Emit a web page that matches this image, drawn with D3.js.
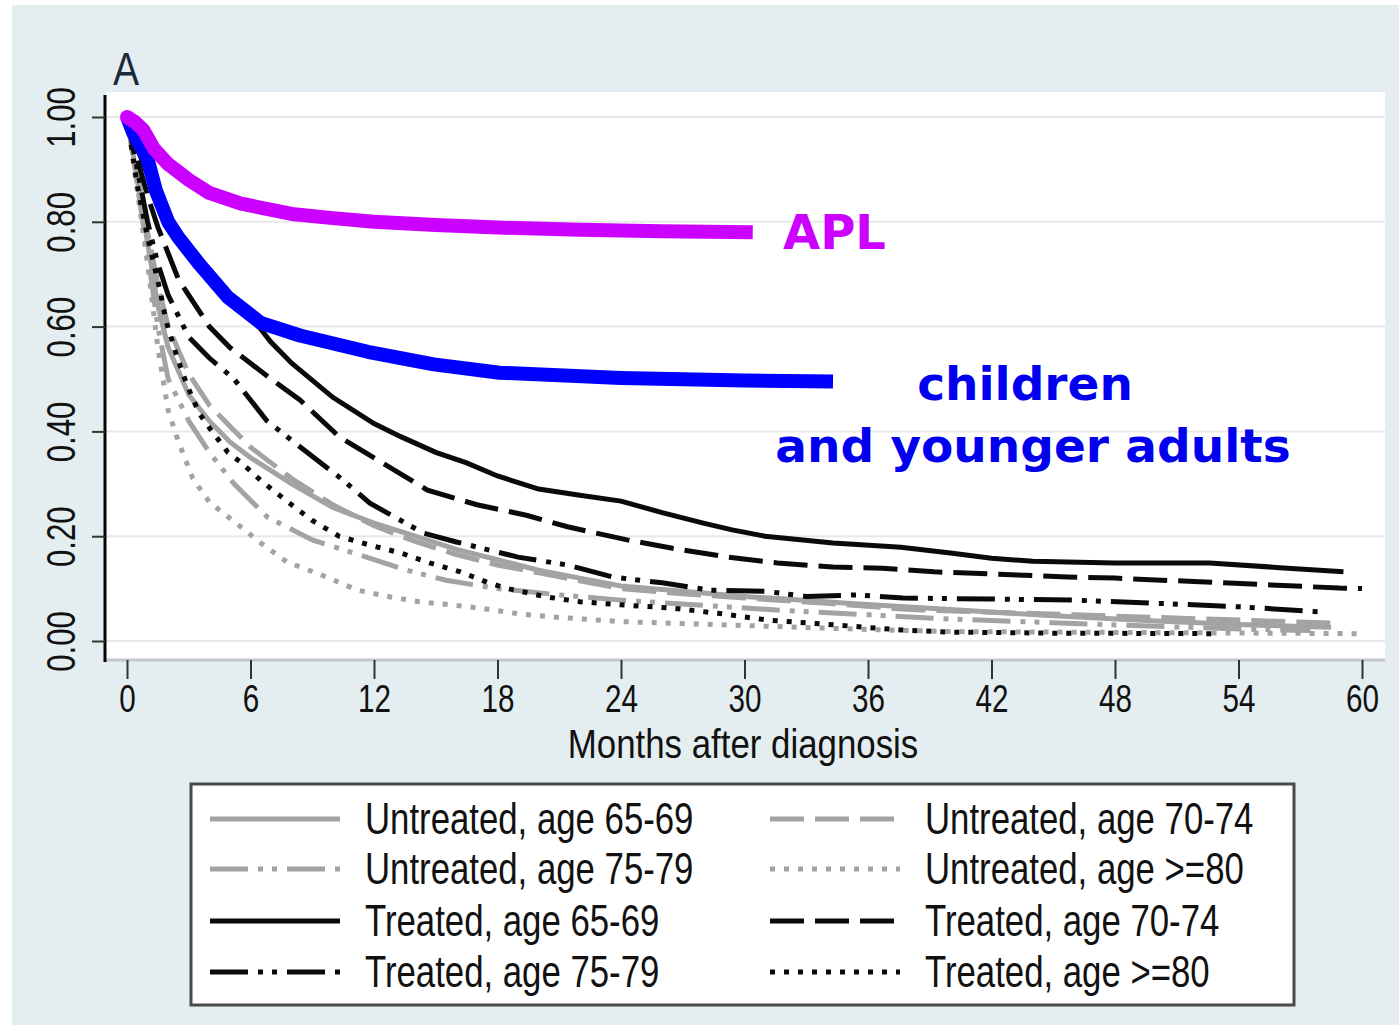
<!DOCTYPE html>
<html>
<head>
<meta charset="utf-8">
<script src="https://cdn.jsdelivr.net/npm/d3@7"></script>
<style>
  body { margin: 0; background: #fff; }
  svg text { font-family: "Liberation Sans", Arial, sans-serif; fill: #111; }
</style>
</head>
<body>
<svg id="chart"></svg>
<script>
// survival curves, [month, proportion surviving]
const apl = [[0,1],[0.4,0.99],[0.8,0.975],[1.3,0.94],[2,0.91],[3,0.88],[4,0.855],[5.5,0.835],[8,0.815],[10,0.807],[12,0.8],[15,0.794],[18,0.789],[22,0.785],[26,0.782],[30.4,0.78]];
const younger = [[0,1],[0.3,0.97],[1,0.92],[1.4,0.86],[2,0.8],[2.5,0.77],[3.5,0.72],[4.9,0.656],[6.5,0.607],[8.4,0.583],[11.7,0.552],[14.9,0.528],[18.1,0.512],[24,0.502],[30,0.497],[34.3,0.495]];

const untreated6569 = [[0,1],[0.5,0.88],[1,0.76],[1.5,0.64],[2,0.56],[3,0.47],[4,0.42],[5,0.38],[6,0.35],[8,0.3],[10,0.255],[12,0.225],[14,0.2],[16,0.175],[18,0.155],[20,0.135],[22,0.12],[24,0.105],[27,0.095],[30,0.085],[35,0.072],[40,0.06],[45,0.048],[50,0.038],[55,0.03],[58.5,0.026]];
const untreated7074 = [[0,1],[0.5,0.9],[1,0.78],[1.5,0.68],[2,0.6],[3,0.51],[4,0.45],[5,0.41],[6,0.37],[8,0.31],[10,0.26],[12,0.22],[14,0.19],[16,0.165],[18,0.145],[20,0.13],[22,0.115],[24,0.1],[27,0.09],[30,0.082],[34,0.072],[38,0.06],[42,0.055],[46,0.05],[50,0.045],[54,0.04],[58.7,0.034]];
const untreated7579 = [[0,1],[0.5,0.87],[1,0.74],[1.5,0.6],[2,0.5],[3,0.42],[4,0.36],[5.2,0.3],[6.8,0.237],[9,0.193],[11,0.168],[13.6,0.135],[15.5,0.116],[18,0.1],[21,0.088],[24,0.078],[28,0.068],[32,0.058],[36,0.05],[40,0.042],[45,0.035],[50,0.028],[55,0.022],[57.5,0.02]];
const untreated80 = [[0,1],[0.5,0.86],[1,0.72],[1.5,0.56],[2,0.44],[2.5,0.38],[3.2,0.31],[4,0.265],[5.3,0.225],[6.5,0.187],[7.8,0.15],[9.2,0.13],[11.2,0.097],[12.8,0.084],[14.2,0.075],[15.7,0.069],[17.3,0.062],[19,0.052],[21,0.045],[24,0.037],[28,0.032],[32,0.027],[36,0.022],[40,0.018],[45,0.017],[50,0.016],[55,0.015],[59.8,0.014]];

const treated6569 = [[0,1],[0.5,0.94],[1,0.89],[1.6,0.84],[2,0.8],[3,0.745],[4,0.7],[5,0.66],[6,0.62],[7,0.57],[8,0.53],[10,0.465],[12,0.415],[13.3,0.39],[15,0.36],[16.5,0.34],[18,0.315],[20,0.29],[22,0.278],[24,0.267],[26,0.245],[28,0.225],[29.4,0.212],[31,0.2],[34.3,0.187],[37.6,0.179],[40,0.168],[42,0.158],[44,0.152],[48,0.149],[52.6,0.149],[56,0.14],[59.1,0.132]];
const treated7074 = [[0,1],[0.5,0.92],[1,0.85],[1.5,0.79],[2.5,0.69],[4,0.6],[5,0.56],[6,0.53],[7,0.5],[8.4,0.46],[10.3,0.39],[12.4,0.34],[14.6,0.288],[17,0.26],[19.4,0.24],[21.4,0.218],[24.3,0.193],[26.5,0.177],[29.2,0.16],[31.6,0.149],[34.3,0.141],[36.7,0.139],[39.2,0.132],[42,0.128],[45.7,0.122],[48,0.12],[52.1,0.113],[55,0.108],[58.9,0.101],[60,0.1]];
const treated7579 = [[0,1],[0.5,0.9],[1,0.8],[1.5,0.72],[2,0.66],[3,0.58],[4,0.54],[5.2,0.5],[6.8,0.42],[8.1,0.38],[10.5,0.307],[11.8,0.263],[14.4,0.206],[16,0.189],[19,0.16],[21.4,0.145],[23.6,0.122],[26,0.111],[28.3,0.097],[31,0.095],[33,0.085],[35.5,0.088],[37.7,0.082],[42,0.08],[46,0.078],[50,0.072],[54.2,0.065],[58.2,0.055]];
const treated80 = [[0,1],[0.5,0.87],[1,0.77],[1.3,0.72],[1.6,0.67],[1.9,0.61],[2.4,0.546],[2.9,0.49],[3.5,0.435],[4,0.407],[4.9,0.36],[5.5,0.342],[6.6,0.303],[7.8,0.266],[9,0.23],[10.3,0.2],[11.8,0.183],[13.3,0.168],[14.7,0.149],[16.2,0.132],[17.5,0.112],[18.5,0.1],[20.4,0.084],[22,0.075],[24,0.069],[26.4,0.063],[28.7,0.053],[31.1,0.04],[34.3,0.031],[37.6,0.021],[40,0.017],[45,0.015],[52.9,0.014]];

const xTicks = [0, 6, 12, 18, 24, 30, 36, 42, 48, 54, 60];
const yTicks = [0, 0.2, 0.4, 0.6, 0.8, 1.0];

const GRAY = "#a3a3a3";
const BLACK = "#0a0a0a";
const DASH = "34,11";
const DASHDOT = "38,10,5,9,5,10";
const DOT = "5,9";

const series = [
  {name: "Untreated, age 65-69", data: untreated6569, color: GRAY, dash: null},
  {name: "Untreated, age 70-74", data: untreated7074, color: GRAY, dash: DASH},
  {name: "Untreated, age 75-79", data: untreated7579, color: GRAY, dash: DASHDOT},
  {name: "Untreated, age >=80", data: untreated80, color: GRAY, dash: DOT},
  {name: "Treated, age 65-69", data: treated6569, color: BLACK, dash: null},
  {name: "Treated, age 70-74", data: treated7074, color: BLACK, dash: DASH},
  {name: "Treated, age 75-79", data: treated7579, color: BLACK, dash: DASHDOT},
  {name: "Treated, age >=80", data: treated80, color: BLACK, dash: DOT}
];

const W = 1399, H = 1025;
const plot = {left: 106, right: 1385, top: 92, bottom: 660};
const squeeze = "scale(0.78,1)";

const svg = d3.select("#chart").attr("width", W).attr("height", H);

svg.append("rect").attr("x", 12).attr("y", 5).attr("width", W - 12).attr("height", H - 5)
  .attr("fill", "#e4eef0");
svg.append("rect").attr("x", plot.left).attr("y", plot.top)
  .attr("width", plot.right - plot.left).attr("height", plot.bottom - plot.top)
  .attr("fill", "#ffffff");

const x = d3.scaleLinear().domain([0, 60]).range([127, 1362]);
const y = d3.scaleLinear().domain([0, 1]).range([641, 117]);

// grid
svg.append("g").selectAll("line").data(yTicks).join("line")
  .attr("x1", plot.left).attr("x2", plot.right)
  .attr("y1", d => y(d)).attr("y2", d => y(d))
  .attr("stroke", "#e8e8e8").attr("stroke-width", 2);

// axes
const xAxis = svg.append("g").attr("transform", `translate(0,${plot.bottom})`)
  .call(d3.axisBottom(x).tickValues(xTicks).tickSize(19).tickPadding(6).tickSizeOuter(0));
xAxis.select(".domain").attr("stroke", "#c4c8ca").attr("stroke-width", 3)
  .attr("d", `M${plot.left},0H${plot.right}`);
xAxis.selectAll(".tick line").attr("stroke", "#333").attr("stroke-width", 2);
xAxis.selectAll(".tick text").attr("font-size", 38).attr("fill", "#111")
  .attr("transform", squeeze);

const yAxis = svg.append("g").attr("transform", `translate(${plot.left - 1},0)`)
  .call(d3.axisLeft(y).tickValues(yTicks).tickFormat(d3.format(".2f")).tickSize(13).tickSizeOuter(0));
yAxis.select(".domain").attr("stroke", "#000").attr("stroke-width", 3)
  .attr("d", "M0,95V662");
yAxis.selectAll(".tick line").attr("stroke", "#333").attr("stroke-width", 2);
yAxis.selectAll(".tick text").attr("font-size", 40).attr("fill", "#111")
  .attr("text-anchor", "middle").attr("x", 0).attr("y", -30).attr("dy", 0)
  .attr("transform", "rotate(-90) " + squeeze);

svg.append("text").attr("text-anchor", "middle").attr("font-size", 41)
  .attr("transform", `translate(743,758) scale(0.85,1)`)
  .text("Months after diagnosis");

svg.append("text").attr("text-anchor", "middle").attr("font-size", 46)
  .style("fill", "#1c2a3a")
  .attr("transform", "translate(126,85) scale(0.85,1)")
  .text("A");

// curves
const line = d3.line().x(d => x(d[0])).y(d => y(d[1]));

svg.append("g").selectAll("path").data(series).join("path")
  .attr("d", d => line(d.data))
  .attr("fill", "none")
  .attr("stroke", d => d.color)
  .attr("stroke-width", 5)
  .attr("stroke-dasharray", d => d.dash);

svg.append("path").attr("d", line(younger)).attr("fill", "none")
  .attr("stroke", "#0000ff").attr("stroke-width", 14).attr("stroke-linejoin", "round");
svg.append("path").attr("d", line(apl)).attr("fill", "none")
  .attr("stroke", "#cc00ff").attr("stroke-width", 14).attr("stroke-linejoin", "round");
svg.append("circle").attr("cx", x(0)).attr("cy", y(1)).attr("r", 7).attr("fill", "#cc00ff");

const boldFont = "'DejaVu Sans', Verdana, sans-serif";
svg.append("text").attr("x", 783).attr("y", 249).attr("font-size", 48).attr("font-weight", "bold")
  .style("font-family", boldFont).style("fill", "#cc00ff").text("APL");
svg.append("text").attr("x", 1025).attr("y", 400).attr("text-anchor", "middle").attr("font-size", 47)
  .attr("font-weight", "bold").style("font-family", boldFont).style("fill", "#0000ee").text("children");
svg.append("text").attr("x", 1033).attr("y", 462).attr("text-anchor", "middle").attr("font-size", 47)
  .attr("font-weight", "bold").style("font-family", boldFont).style("fill", "#0000ee").text("and younger adults");

// legend
const legend = svg.append("g");
legend.append("rect").attr("x", 191).attr("y", 784).attr("width", 1103).attr("height", 221)
  .attr("fill", "#fff").attr("stroke", "#4a4a4a").attr("stroke-width", 3);

const rowY = [819, 869, 921, 972];
const items = legend.selectAll("g.item").data(series).join("g")
  .attr("class", "item")
  .attr("transform", (d, i) => `translate(${i % 2 === 0 ? 210 : 770},${rowY[Math.floor(i / 2)]})`);
items.append("line").attr("x1", 0).attr("x2", 130).attr("y1", 0).attr("y2", 0)
  .attr("stroke", d => d.color).attr("stroke-width", 5)
  .attr("stroke-dasharray", d => d.dash);
items.append("text").attr("font-size", 44)
  .attr("transform", `translate(155,15) scale(0.79,1)`)
  .text(d => d.name);
</script>
</body>
</html>
